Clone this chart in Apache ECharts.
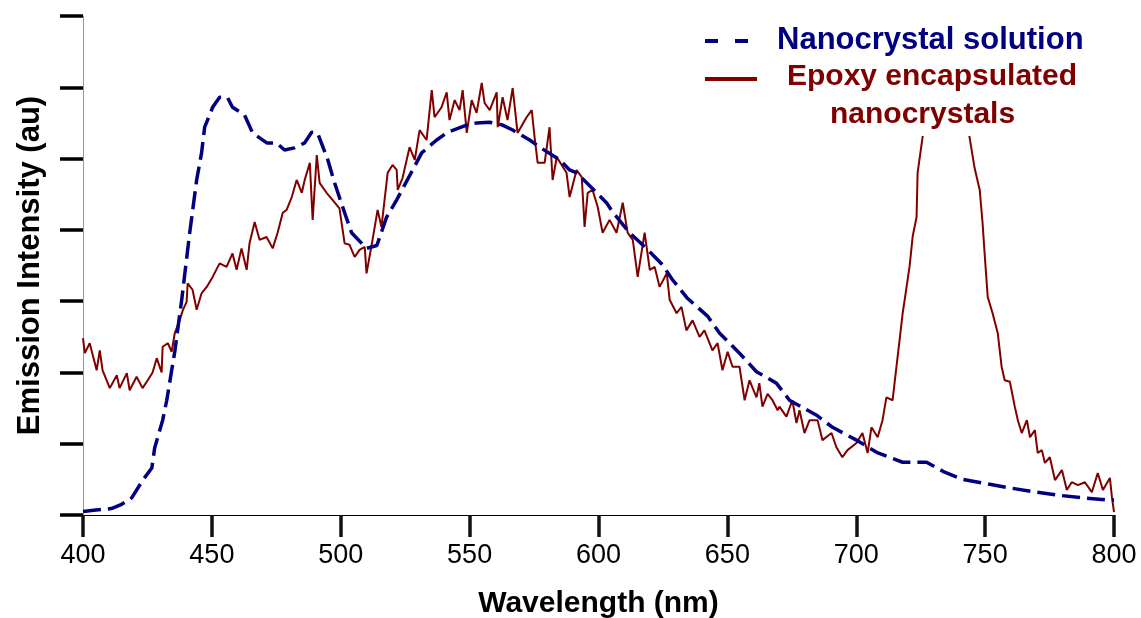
<!DOCTYPE html>
<html>
<head>
<meta charset="utf-8">
<script src="https://cdn.jsdelivr.net/npm/echarts@6/dist/echarts.min.js"></script>
<style>
html,body{margin:0;padding:0;background:#fff;}
#chart{width:1141px;height:618px;}
</style>
</head>
<body>
<div id="chart"></div>
<script>
// ---- Data ----
const xTicks = [400, 450, 500, 550, 600, 650, 700, 750, 800];
const seriesNames = ['Nanocrystal solution', 'Epoxy encapsulated', 'nanocrystals'];

const blueNm = [400, 405, 411, 415, 418.9, 423.2, 426.7, 427.8, 430.9, 432.5, 433.6, 434.4, 435.6, 438.3,
  441.4, 444.1, 446, 447.2, 450.3, 453, 456, 458, 462.7, 465.8, 471.3, 475, 478.2, 482, 486, 488.7, 491,
  495, 497.6, 501.5, 504.2, 510, 514, 517.8, 521.7, 527.9, 531.4, 537.2, 541.5, 548.8, 552.7, 557.7,
  562.8, 566.7, 573.3, 577.2, 585, 588.8, 591.5, 599.3, 603.1, 605.5, 612, 618.6, 624.8, 628.7, 634.5,
  642.3, 647, 654.7, 661.3, 669, 674.1, 684.6, 690.8, 700.1, 707.9, 718, 727.3, 734.3, 741.3, 751.8,
  759.6, 770, 777.8, 787.9, 797.2, 800];
const blueVal = [0.05, 0.07, 0.09, 0.15, 0.24, 0.49, 0.66, 0.94, 1.33, 1.61, 1.85, 2.03, 2.29, 3.02,
  3.96, 4.70, 5.08, 5.44, 5.72, 5.86, 5.86, 5.72, 5.61, 5.36, 5.22, 5.22, 5.12, 5.15, 5.22, 5.37, 5.36,
  4.98, 4.66, 4.24, 3.96, 3.74, 3.78, 4.18, 4.42, 4.84, 5.08, 5.26, 5.37, 5.47, 5.50, 5.51,
  5.47, 5.40, 5.26, 5.16, 4.98, 4.84, 4.80, 4.52, 4.38, 4.25, 3.96, 3.74, 3.51, 3.30, 3.04,
  2.79, 2.55, 2.27, 2.01, 1.85, 1.61, 1.40, 1.23, 1.05, 0.88, 0.74, 0.74, 0.60, 0.50, 0.43,
  0.38, 0.32, 0.28, 0.24, 0.21, 0.21];

const redNm = [400, 400.7, 402.6, 405.3, 406.5, 407.6, 410.4, 413.1, 414.2, 417, 418.1, 420.8, 423.1, 425.1,
  427, 428.6, 430.5, 430.9, 432.9, 434.4, 435.6, 437.5, 438.7, 440.2, 440.6, 442.5, 444.1, 446, 448,
  450.3, 453, 455.7, 458, 459.6, 461.5, 463.5, 464.6, 466.6, 468.5, 471.2, 473.6, 475.5, 477.5, 479,
  481, 482.9, 484.9, 486, 488, 489.1, 490.7, 491.8, 494.5, 496.8, 499.5, 501.5, 503.4, 505.4, 507.3,
  509.3, 510, 512, 514.3, 515.8, 518.2, 520.1, 521.7, 522.1, 524, 526.7, 528.7, 530.6, 533.3, 535.3,
  536.4, 539.1, 541.1, 542.2, 544.2, 546.1, 547.3, 548.9, 550.8, 552.7, 554.7, 555.8, 557.8, 560.5,
  560.9, 562.8, 564.7, 566.7, 568.6, 572.1, 574.1, 575.2, 576.4, 579.1, 581, 582.2, 583.8, 587.6,
  588.8, 591.5, 593.5, 594.6, 595.8, 597.7, 599.7, 601.6, 604.3, 607, 609.4, 611.3, 613.3, 615.2,
  617.9, 619.9, 621.8, 623.7, 626.5, 627.6, 630.3, 632.2, 634.1, 636.5, 639.2, 641.1, 644.2, 646.2,
  648.1, 650.1, 652, 654.7, 656.7, 658.6, 661.3, 662.4, 663.6, 665.6, 667.5, 669.5, 670.2, 672.9,
  675.2, 676.8, 678, 679.9, 681.9, 685, 686.9, 690.4, 692.3, 694.6, 696.6, 700.1, 702.4, 704.4,
  705.9, 708.3, 710.2, 711.7, 714.1, 715.6, 716.8, 718, 718.8, 720.7, 721.9, 723.4, 723.8, 725.7,
  728, 732, 736, 740, 744, 745.9, 747.9, 749, 749.8, 751, 752.9, 754.9, 756.4, 757.6, 759.6, 761.5,
  762.7, 764.2, 766.2, 767.4, 769.3, 770.4, 772, 773.2, 775.1, 777.1, 779.8, 781.7, 783.6, 786,
  788.7, 791.4, 793.7, 795.7, 798.4, 799.2, 800];
const redVal = [2.48, 2.27, 2.41, 2.03, 2.31, 2.03, 1.78, 1.96, 1.78, 1.99, 1.75, 1.94, 1.78, 1.89,
  2.0, 2.2, 2.0, 2.36, 2.41, 2.29, 2.55, 2.73, 2.87, 2.99, 3.25, 3.16, 2.88, 3.11, 3.20,
  3.34, 3.53, 3.48, 3.67, 3.44, 3.74, 3.44, 3.81, 4.11, 3.86, 3.90, 3.74, 3.96, 4.24, 4.28,
  4.46, 4.70, 4.52, 4.70, 4.94, 4.14, 5.05, 4.66, 4.52, 4.42, 4.30, 3.81, 3.79, 3.62, 3.72,
  3.76, 3.39, 3.79, 4.28, 4.04, 4.80, 4.91, 4.84, 4.56, 4.73, 5.16, 4.98, 5.40, 5.26, 5.96,
  5.58, 5.72, 5.93, 5.54, 5.82, 5.68, 5.96, 5.36, 5.82, 5.64, 6.06, 5.78, 5.68, 5.93,
  5.44, 5.86, 5.54, 5.99, 5.36, 5.58, 5.68, 5.30, 4.94, 4.94, 5.44, 4.70, 5.02, 4.80,
  4.46, 4.84, 4.74, 4.04, 4.52, 4.56, 4.32, 3.96, 4.14, 3.96, 4.38, 3.96, 3.86, 3.34,
  3.96, 3.44, 3.48, 3.20, 3.39, 3.02, 2.83, 2.92, 2.59, 2.73, 2.50, 2.59, 2.31, 2.41,
  2.03, 2.29, 2.08, 2.08, 1.61, 1.89, 1.65, 1.85, 1.52, 1.70, 1.61, 1.47, 1.52, 1.38,
  1.61, 1.29, 1.47, 1.15, 1.33, 1.33, 1.05, 1.15, 0.95, 0.81, 0.91, 1.01, 1.15, 0.87,
  1.23, 1.09, 1.33, 1.65, 1.61, 2.08, 2.45, 2.83, 3.02, 3.49, 3.91, 4.18, 4.80, 5.29,
  5.9, 6.3, 6.4, 6.1, 5.29, 4.87, 4.56, 4.10, 3.67, 3.06, 2.83, 2.55, 2.08, 1.89, 1.87, 1.52,
  1.33, 1.15, 1.33, 1.09, 1.19, 0.87, 0.91, 0.73, 0.81, 0.49, 0.63, 0.35, 0.46, 0.42,
  0.46, 0.32, 0.59, 0.35, 0.52, 0.25, 0.04];

// ---- Chart ----
const BLUE = '#000080';
const RED = '#800000';
const FONT = 'Liberation Sans, Arial, sans-serif';
const zip = (xs, ys) => xs.map((x, i) => [x, ys[i]]);

const chart = echarts.init(document.getElementById('chart'), null, {renderer: 'canvas'});
chart.setOption({
  animation: false,
  backgroundColor: '#fff',
  grid: {left: 83, right: 27, top: 16, bottom: 103, containLabel: false, outerBoundsMode: 'none'},
  xAxis: {
    type: 'value', min: xTicks[0], max: xTicks[xTicks.length - 1], interval: 50,
    name: 'Wavelength (nm)', nameLocation: 'middle', nameGap: 74,
    nameTextStyle: {fontFamily: FONT, fontWeight: 'bold', fontSize: 30, color: '#000'},
    axisLine: {show: true, lineStyle: {color: '#000', width: 1}},
    axisTick: {show: true, inside: false, length: 22, lineStyle: {color: '#111', width: 3.5}},
    axisLabel: {fontFamily: FONT, fontSize: 27, color: '#000', margin: 27},
    splitLine: {show: false}
  },
  yAxis: {
    type: 'value', min: 0, max: 7, interval: 1,
    name: 'Emission Intensity (au)', nameLocation: 'middle', nameGap: 37,
    nameTextStyle: {fontFamily: FONT, fontWeight: 'bold', fontSize: 31, color: '#000'},
    axisLine: {show: true, lineStyle: {color: '#999', width: 1}},
    axisTick: {show: true, inside: false, length: 23, lineStyle: {color: '#000', width: 3.5}},
    axisLabel: {show: false},
    splitLine: {show: false}
  },
  series: [
    {
      name: seriesNames[0], type: 'line', data: zip(blueNm, blueVal),
      showSymbol: false, symbol: 'none', smooth: false, z: 3,
      lineStyle: {color: BLUE, width: 3.5, type: [18, 7]}
    },
    {
      name: seriesNames[1] + ' ' + seriesNames[2], type: 'line', data: zip(redNm, redVal),
      showSymbol: false, symbol: 'none', smooth: false, z: 2,
      lineStyle: {color: RED, width: 2}
    }
  ],
  graphic: [
    {type: 'rect', z: 100, shape: {x: 690, y: 18, width: 410, height: 118}, style: {fill: '#fff'}},
    {type: 'line', z: 101, shape: {x1: 705, y1: 41, x2: 718, y2: 41}, style: {stroke: BLUE, lineWidth: 4}},
    {type: 'line', z: 101, shape: {x1: 735, y1: 41, x2: 748, y2: 41}, style: {stroke: BLUE, lineWidth: 4}},
    {type: 'line', z: 101, shape: {x1: 705, y1: 79, x2: 757, y2: 79}, style: {stroke: RED, lineWidth: 4}},
    {type: 'text', z: 101, style: {text: seriesNames[0], x: 777, y: 40, fill: BLUE,
      font: 'bold 31px ' + FONT, align: 'left', verticalAlign: 'middle'}},
    {type: 'text', z: 101, style: {text: seriesNames[1], x: 787, y: 77, fill: RED,
      font: 'bold 30px ' + FONT, align: 'left', verticalAlign: 'middle'}},
    {type: 'text', z: 101, style: {text: seriesNames[2], x: 830, y: 115, fill: RED,
      font: 'bold 30px ' + FONT, align: 'left', verticalAlign: 'middle'}}
  ]
});
</script>
</body>
</html>
